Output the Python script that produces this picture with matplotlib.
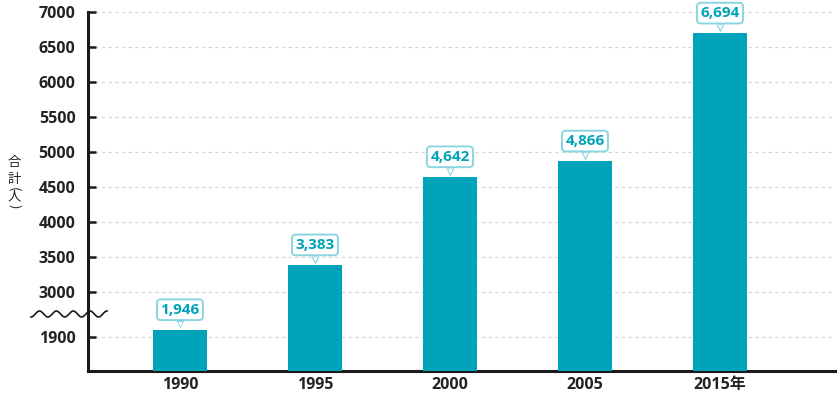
import numpy as np
import matplotlib
matplotlib.use("Agg")
import matplotlib.pyplot as plt
from matplotlib.transforms import offset_copy

# data
years = ["1990", "1995", "2000", "2005", "2015年"]
totals = [1946, 3383, 4642, 4866, 6694]
yticks = [1900, 3000, 3500, 4000, 4500, 5000, 5500, 6000, 6500, 7000]

bar_color = "#00a3b9"
box_edge = "#8bd5e2"
fonts = ["Open Sans", "Noto Sans CJK JP", "DejaVu Sans"]
plt.rcParams["font.family"] = fonts

# broken axis: the part below 3000 is squeezed
knots_v = [1676, 2058, 3000, 7000]
knots_t = [1871.4, 2700, 3000, 7000]


def fwd(v):
    return np.interp(v, knots_v, knots_t)


def inv(t):
    return np.interp(t, knots_t, knots_v)


fig = plt.figure(figsize=(8.38, 3.96), dpi=100)
ax = fig.add_axes([88 / 838, 25 / 396, 747 / 838, 359 / 396])
ax.set_yscale("function", functions=(fwd, inv))

x = np.arange(len(years))
ax.bar(x, totals, width=0.4, color=bar_color, zorder=3)
ax.set_xlim(-0.681, 4.852)
ax.set_ylim(1676, 7000)

ax.set_yticks(yticks)
ax.set_yticklabels([str(t) for t in yticks])
ax.set_xticks(x)
ax.set_xticklabels(years)
ax.yaxis.grid(True, color="#d4d4d4", linestyle=(0, (3, 3)), linewidth=0.8)
ax.set_axisbelow(True)

for side in ["top", "right"]:
    ax.spines[side].set_visible(False)
for side in ["left", "bottom"]:
    ax.spines[side].set_linewidth(2.2)
    ax.spines[side].set_color("#1a1a1a")

ax.tick_params(axis="y", direction="in", length=6, width=1.8, color="#1a1a1a",
               pad=9, labelsize=11.5, labelcolor="#222222")
ax.tick_params(axis="x", length=0, pad=4, labelsize=11.5, labelcolor="#222222")
for lab in ax.get_yticklabels() + ax.get_xticklabels():
    lab.set_fontweight("bold")

# value callouts
for xi, v in zip(x, totals):
    ax.annotate(f"{v:,}", xy=(xi, v), xytext=(0, 14.6), textcoords="offset points",
                ha="center", va="center", fontsize=11, fontweight="bold",
                color=bar_color, zorder=6,
                bbox=dict(boxstyle="round,pad=0.22,rounding_size=0.25", fc="white",
                          ec=box_edge, lw=1.4))
    tr = offset_copy(ax.transData, fig=fig, x=0, y=4.0, units="points")
    ax.plot(xi, v, marker="v", ms=5.5, color=box_edge, mec="none", transform=tr,
            zorder=7, clip_on=False)
    tr2 = offset_copy(ax.transData, fig=fig, x=0, y=4.4, units="points")
    ax.plot(xi, v, marker="v", ms=3.4, color="white", mec="none", transform=tr2,
            zorder=8, clip_on=False)

# wavy break mark (figure pixels)
wx = np.linspace(31, 107, 200)
wy = 314 + 3 * np.sin((wx - 31) / 76 * 4.5 * 2 * np.pi + np.pi / 2)
ax.plot(wx / 838, 1 - wy / 396, color="#1a1a1a", lw=1.2, transform=fig.transFigure,
        clip_on=False, zorder=9)

# vertical y label
cjk = ["Noto Sans CJK JP", "DejaVu Sans"]
for ch, yc, rot in zip(["合", "計", "(", "人", ")"], [163, 179, 189, 197, 206],
                       [0, 0, -90, 0, -90]):
    fig.text(14 / 838, 1 - yc / 396, ch, ha="center", va="center", rotation=rot,
             fontsize=9.5, color="#222222", family=cjk)

fig.savefig("out.png", dpi=100)
